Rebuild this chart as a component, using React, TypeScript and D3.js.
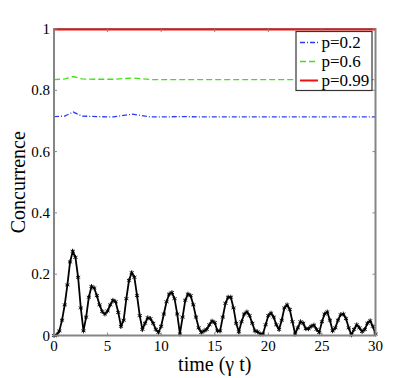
import React from "react";
import * as d3 from "d3";

// black curve sampled every 0.25 (gamma t)
const blackT = d3.range(0, 30.001, 0.25);
const blackC = [
  0, 0.002, 0.015, 0.05, 0.1, 0.165, 0.24, 0.275, 0.255, 0.19, 0.09, 0.015,
  0.06, 0.125, 0.16, 0.155, 0.13, 0.1, 0.078, 0.07, 0.08, 0.1, 0.115, 0.11,
  0.075, 0.03, 0.05, 0.12, 0.18, 0.205, 0.19, 0.13, 0.065, 0.02, 0.04, 0.058,
  0.055, 0.04, 0.02, 0.01, 0.03, 0.07, 0.11, 0.135, 0.14, 0.12, 0.07, 0.005,
  0.06, 0.115, 0.135, 0.13, 0.1, 0.06, 0.025, 0.01, 0.015, 0.02, 0.035, 0.047,
  0.042, 0.015, 0.015, 0.06, 0.105, 0.125, 0.125, 0.09, 0.04, 0.012, 0.045, 0.07,
  0.077, 0.065, 0.04, 0.015, 0.012, 0.005, 0.005, 0.035, 0.065, 0.073, 0.06, 0.035,
  0.02, 0.05, 0.09, 0.1, 0.085, 0.045, 0.005, 0.025, 0.045, 0.04, 0.022, 0.022,
  0.03, 0.034, 0.02, 0.01, 0.045, 0.07, 0.077, 0.05, 0.015, 0.025, 0.05, 0.068,
  0.07, 0.055, 0.025, 0.002, 0.02, 0.035, 0.025, 0.013, 0.02, 0.04, 0.048, 0.03,
  0.005,
];

const smoothT = [0, 1, 1.8, 2.6, 4, 5.5, 7.3, 9, 12, 15, 18, 21, 24, 27, 30];
const blueC = [0.714, 0.716, 0.729, 0.716, 0.714, 0.713, 0.722, 0.713, 0.714, 0.713, 0.713, 0.713, 0.713, 0.713, 0.713];
const greenC = [0.835, 0.837, 0.845, 0.837, 0.836, 0.836, 0.84, 0.835, 0.835, 0.835, 0.835, 0.835, 0.835, 0.835, 0.835];
const redC = [0.998, 0.998, 0.998, 0.998, 0.998, 0.998, 0.998, 0.998, 0.998, 0.998, 0.998, 0.998, 0.998, 0.998, 0.998];

const xTicks = [0, 5, 10, 15, 20, 25, 30];
const yTicks = [0, 0.2, 0.4, 0.6, 0.8, 1];
const legendLabels = ["p=0.2", "p=0.6", "p=0.99"];

const W = 415, H = 378;
const L = 54, R = 375.5, T = 29, B = 335.5;
const font = { fontFamily: "Liberation Serif, Times New Roman, serif" };

export default function App() {
  const x = d3.scaleLinear().domain([0, 30]).range([L, R]);
  const y = d3.scaleLinear().domain([0, 1]).range([B, T]);
  const ln = (ts: number[]) =>
    d3.line<number>().x((_, i) => x(ts[i])).y((v) => y(v));
  const star = d3.symbol(d3.symbolAsterisk, 16)();
  const styles = [
    { color: "#2b3cf5", dash: "5,2,1,2", w: 1.3 },
    { color: "#44e014", dash: "6,3", w: 1.3 },
    { color: "#f01010", dash: "", w: 2 },
  ];
  const gray = "#858585";
  return (
    <svg width={W} height={H} style={{ position: "absolute", left: 0, top: 0, background: "#fff" }}>
      <path d={ln(smoothT)(blueC) || ""} fill="none" stroke={styles[0].color} strokeWidth={styles[0].w} strokeDasharray={styles[0].dash} />
      <path d={ln(smoothT)(greenC) || ""} fill="none" stroke={styles[1].color} strokeWidth={styles[1].w} strokeDasharray={styles[1].dash} />
      <path d={ln(blackT)(blackC) || ""} fill="none" stroke="#000" strokeWidth={1.8} />
      {blackC.map((v, i) => (
        <path key={i} d={star || ""} transform={`translate(${x(blackT[i])},${y(v)})`} fill="none" stroke="#000" strokeWidth={0.9} />
      ))}
      {/* frame */}
      <rect x={L} y={T} width={R - L} height={B - T} fill="none" stroke={gray} strokeWidth={2} />
      <path d={ln(smoothT)(redC) || ""} fill="none" stroke={styles[2].color} strokeWidth={styles[2].w} />
      {xTicks.map((t) => (
        <g key={t}>
          <line x1={x(t)} x2={x(t)} y1={B} y2={B - 3} stroke={gray} />
          <line x1={x(t)} x2={x(t)} y1={T} y2={T + 3} stroke={gray} />
          <text x={x(t)} y={351} textAnchor="middle" style={font} fontSize={15}>{t}</text>
        </g>
      ))}
      {yTicks.map((t) => (
        <g key={t}>
          <line x1={L} x2={L + 3} y1={y(t)} y2={y(t)} stroke={gray} />
          <line x1={R} x2={R - 3} y1={y(t)} y2={y(t)} stroke={gray} />
          <text x={50} y={y(t) + 5} textAnchor="end" style={font} fontSize={15}>{t}</text>
        </g>
      ))}
      <text x={(L + R) / 2} y={371} textAnchor="middle" style={font} fontSize={20}>time (γ t)</text>
      <text transform={`translate(25,${(T + B) / 2}) rotate(-90)`} textAnchor="middle" style={font} fontSize={20}>Concurrence</text>
      {/* legend */}
      <rect x={296} y={31.5} width={76} height={59} fill="#fff" stroke="#333" strokeWidth={1.2} />
      {legendLabels.map((lab, i) => (
        <g key={lab} transform={`translate(0,${42.5 + i * 19})`}>
          <line x1={300} x2={318} y1={0} y2={0} stroke={styles[i].color} strokeWidth={styles[i].w} strokeDasharray={styles[i].dash} />
          <text x={321.5} y={5.5} style={font} fontSize={17}>{lab}</text>
        </g>
      ))}
    </svg>
  );
}
